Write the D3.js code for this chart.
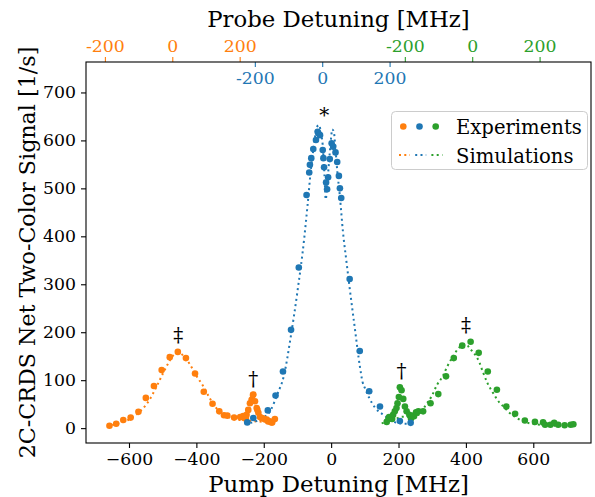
<!DOCTYPE html>
<html><head><meta charset="utf-8">
<script src="https://cdn.jsdelivr.net/npm/d3@7"></script>
<style>body{margin:0;background:#fff}svg{display:block}text{font-family:"DejaVu Serif",serif}</style>
</head><body><svg id="c" width="595" height="497"></svg>
<script>
// ---- data ----
const orangeExpX=[-658,-638,-617,-595,-572,-550,-526,-503,-479,-455,-431,-404,-378,-352,-332,-318,-308,-288,-270,-261,-258,-253,-251,-246,-241,-236,-232,-231,-226,-221,-219,-216,-211,-206,-201,-196,-191,-187,-182,-177,-175,-167];
const orangeExpY=[5,9,17,22,34,63,88,121,148,159,146,114,76,51,35,27,26,22,23,25,21,21,28,38,52,59,69,70,56,42,38,32,23,21,20,18,18,14,14,12,12,19];
const blueExpX=[-249,-231,-188,-165,-143,-119,-96,-73,-65,-63,-59,-53,-45,-40,-38,-33,-25,-23,-21,-15,-12,-9,-4,1.5,6,13,18,23,26,30,55,85,113,145,204,236];
const blueExpY=[12,21,37,68,118,205,335,486,533,549,563,582,601,618,615,611,580,563,544,512,498,523,561,594,587,575,555,526,500,480,311,161,77,45,15,11];
const greenExpX=[165,170,172,180,181,184,189,194,197,201,204,209,214,219,224,232,237,239,244,246,252,254,259,273,295,318,341,364,389,414,438,465,492,520,546,575,605,629,635,651,662,674,693,711,719];
const greenExpY=[13,19,23,21,19,28,35,42,52,65,85,79,61,45,35,28,20,23,26,25,33,32,35,35,52,71,108,146,172,180,157,118,80,45,30,16,13,12,7,7,11,7,6,7,8];
const orangeSimX=[-665,-640,-620,-600,-580,-560,-540,-520,-500,-486,-465,-452,-440,-420,-400,-380,-360,-340,-320,-300,-280,-260,-240,-220,-200,-180,-165];
const orangeSimY=[4,8,12,18,27,40,58,84,113,132,154,157,152,134,109,88,62,41,29,22,18,16,15,14,13,12,12];
const blueSimX=[-240,-220,-200,-180,-160,-140,-120,-100,-80,-70,-60,-50,-43,-36,-30,-25,-20,-16,-12,-8,-4,0,3,8,12,18,26,35,45,55,70,85,93,100,113,130,155,175,195,220,240];
const blueSimY=[11,15,22,37,70,110,190,285,395,465,540,595,627,632,615,590,530,477,505,540,575,606,623,618,590,538,483,410,350,292,210,130,97,84,63,43,28,18,11,9,9];
const greenSimX=[150,170,190,210,230,250,268,278,298,315,331,345,362,380,392,402,410,422,432,440,450,464,481,501,513,528,545,570,590,620,650,690,720];
const greenSimY=[10,14,18,24,24,26,32,45,66,91,108,129,150,168,173,175,167,158,148,137,118,94,73,52,44,33,24,14,10,7,5,5,4];
const xTicks=[-600,-400,-200,0,200,400,600];
const yTicks=[0,100,200,300,400,500,600,700];
const probeTicks=[-200,0,200];
const probeZeroOrange=-471.5, probeZeroBlue=-26.5, probeZeroGreen=418.7;
const annText=["‡","†","*","†","‡"];
const annX=[-454,-231,-20.5,209,400];
const annY=[194,103,653,120,215];
const colors={orange:"#ff7f0e",blue:"#1f77b4",green:"#2ca02c"};

// ---- layout ----
const L=86,R=591,T=62,B=443;
const svg=d3.select("#c");
const x=d3.scaleLinear().domain([-727.6,771.3]).range([L,R]);
const y=d3.scaleLinear().domain([-31,763.5]).range([B,T]);
const tickFont=17.3;

// sims
const line=d3.line().x(d=>x(d[0])).y(d=>y(d[1])).curve(d3.curveMonotoneX);
svg.append("clipPath").attr("id","pc").append("rect").attr("x",L).attr("y",T).attr("width",R-L).attr("height",B-T);
const g=svg.append("g").attr("clip-path","url(#pc)");
function sim(xs,ys,c){g.append("path").attr("d",line(d3.zip(xs,ys))).attr("fill","none").attr("stroke",c).attr("stroke-width",2).attr("stroke-dasharray","2,3.3");}
function exp(xs,ys,c){g.selectAll(null).data(d3.zip(xs,ys)).enter().append("circle").attr("cx",d=>x(d[0])).attr("cy",d=>y(d[1])).attr("r",3.3).attr("fill",c);}
sim(orangeSimX,orangeSimY,colors.orange);
sim(blueSimX,blueSimY,colors.blue);
sim(greenSimX,greenSimY,colors.green);
exp(orangeExpX,orangeExpY,colors.orange);
exp(greenExpX,greenExpY,colors.green);
exp(blueExpX,blueExpY,colors.blue);

// annotations
svg.selectAll(null).data(d3.range(annText.length)).enter().append("text")
 .attr("x",i=>x(annX[i])).attr("y",i=>y(annY[i])).attr("text-anchor","middle").attr("dominant-baseline","central")
 .attr("font-size",20).attr("fill","#000").text(i=>annText[i]);

// axes
function styleAxis(sel,color){sel.select(".domain").remove();sel.selectAll(".tick line").attr("stroke",color||"#000").attr("stroke-width",1.1);sel.selectAll(".tick text").attr("font-size",tickFont).attr("font-family","DejaVu Serif").attr("fill",color||"#000");}
const fmt=d=>d<0?"\u2212"+Math.abs(d):String(d);
svg.append("g").attr("transform",`translate(0,${B})`).call(d3.axisBottom(x).tickValues(xTicks).tickFormat(fmt).tickSize(5).tickPadding(5)).call(s=>styleAxis(s));
svg.append("g").attr("transform",`translate(${L},0)`).call(d3.axisLeft(y).tickValues(yTicks).tickFormat(fmt).tickSize(5).tickPadding(5)).call(s=>styleAxis(s));
function probeAxis(zero,color,inward){
 const ps=d3.scaleLinear().domain(x.domain().map(v=>v-zero)).range([L,R]);
 const ax=inward? d3.axisBottom(ps).tickSize(5).tickPadding(5):d3.axisTop(ps).tickSize(5).tickPadding(5);
 const gg=svg.append("g").attr("transform",`translate(0,${T})`).call(ax.tickValues(probeTicks).tickFormat(d=>String(d)));
 styleAxis(gg,color);
}
probeAxis(probeZeroOrange,colors.orange,false);
probeAxis(probeZeroGreen,colors.green,false);
probeAxis(probeZeroBlue,colors.blue,true);

// frame
svg.append("rect").attr("x",L).attr("y",T).attr("width",R-L).attr("height",B-T).attr("fill","none").attr("stroke","#000").attr("stroke-width",1.1);

// labels
svg.append("text").attr("x",(L+R)/2).attr("y",492).attr("text-anchor","middle").attr("font-size",22.8).text("Pump Detuning [MHz]");
svg.append("text").attr("x",(L+R)/2).attr("y",27).attr("text-anchor","middle").attr("font-size",22.8).text("Probe Detuning [MHz]");
svg.append("text").attr("transform",`translate(27,${(T+B)/2}) rotate(-90)`).attr("text-anchor","middle").attr("dominant-baseline","central").attr("font-size",22.2).text("2C-CRDS Net Two-Color Signal [1/s]");

// legend
const lg=svg.append("g");
lg.append("rect").attr("x",391.5).attr("y",111.5).attr("width",196).attr("height",58).attr("rx",4).attr("fill","#fff").attr("fill-opacity",0.8).attr("stroke","#ccc");
[colors.orange,colors.blue,colors.green].forEach((c,i)=>{
 lg.append("circle").attr("cx",403.3+i*16.2).attr("cy",126.5).attr("r",3.3).attr("fill",c);
 lg.append("line").attr("x1",399+i*16.2).attr("x2",410+i*16.2).attr("y1",155).attr("y2",155).attr("stroke",c).attr("stroke-width",2).attr("stroke-dasharray","2,3.3");
});
lg.append("text").attr("x",456).attr("y",134).attr("font-size",19.6).text("Experiments");
lg.append("text").attr("x",456).attr("y",163).attr("font-size",19.6).text("Simulations");
</script></body></html>
